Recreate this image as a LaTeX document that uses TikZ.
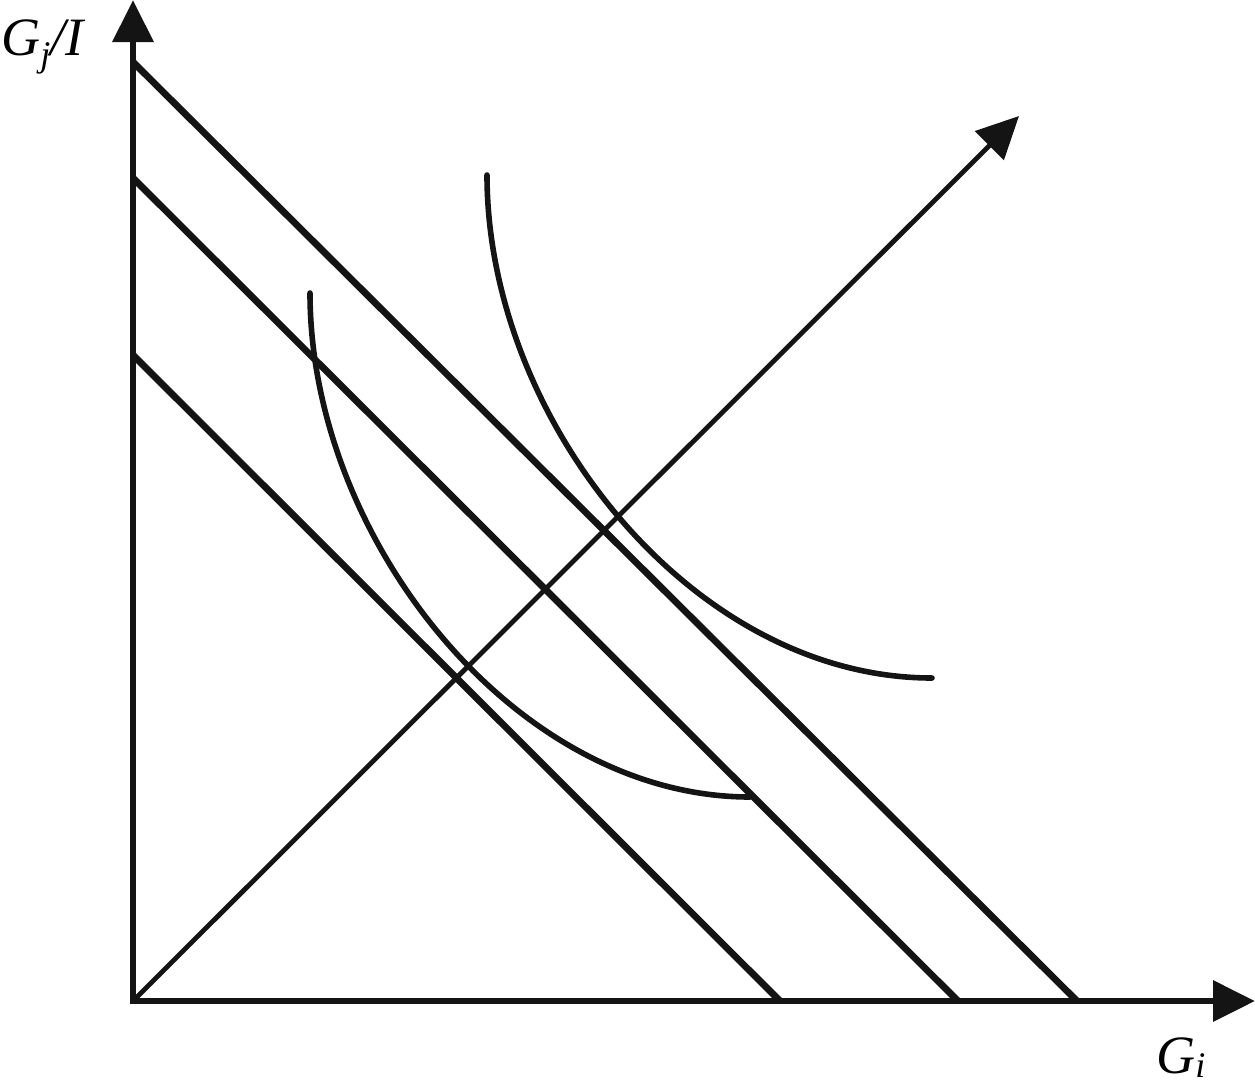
\documentclass[tikz,border=0pt]{standalone}
\usepackage{fontspec}
\setmainfont{Liberation Serif}
\usetikzlibrary{arrows.meta}
\begin{document}
\begin{tikzpicture}[x=0.5pt,y=-0.5pt,
  axisline/.style={line width=3.2pt,color=black!92},
  budget/.style={line width=3.4pt,color=black!92},
  ray/.style={line width=2.4pt,color=black!92},
  indiff/.style={line width=2.8pt,color=black!92,line cap=round},
  tip/.style={-{Triangle[length=21pt,width=20pt]}},
  lbl/.style={inner sep=0pt,font=\fontsize{27}{32}\selectfont\itshape}]
\useasboundingbox (0,0) rectangle (1255,1089);
% coordinates
\coordinate (O) at (133,1001);
\coordinate (Ytip) at (133,0);
\coordinate (Xtip) at (1255,1001);
\coordinate (Dtip) at (1019,116);
\coordinate (a1) at (133,62);   \coordinate (b1) at (1077,1001);
\coordinate (a2) at (133,178);  \coordinate (b2) at (958,1001);
\coordinate (a3) at (133,355);  \coordinate (b3) at (780,1001);
% axes
\draw[axisline,{Triangle[length=21pt,width=20pt]}-{Triangle[length=21pt,width=20pt]},line join=miter] (Ytip) -- (O) -- (Xtip);
% ray
\draw[ray,tip] (O) -- (Dtip);
% budget lines
\draw[budget] (a1) -- (b1);
\draw[budget] (a2) -- (b2);
\draw[budget] (a3) -- (b3);
% indifference curves
\coordinate (c1s) at (487,175); \coordinate (c1e) at (932,678);
\coordinate (c2s) at (310,293); \coordinate (c2e) at (750,797);
\draw[indiff] (c1s) .. controls ([yshift=-122pt]c1s) and ([xshift=-120pt]c1e) .. (c1e);
\draw[indiff] (c2s) .. controls ([yshift=-122pt]c2s) and ([xshift=-118pt]c2e) .. (c2e);
% labels
\node[lbl,anchor=base west] (ylab) at (1,55) {G\raisebox{-0.22em}{\fontsize{18}{20}\selectfont j}/I};
\node[lbl,anchor=base west] (xlab) at (1156,1073) {G\raisebox{-0.08em}{\fontsize{18}{20}\selectfont i}};
\end{tikzpicture}
\end{document}
